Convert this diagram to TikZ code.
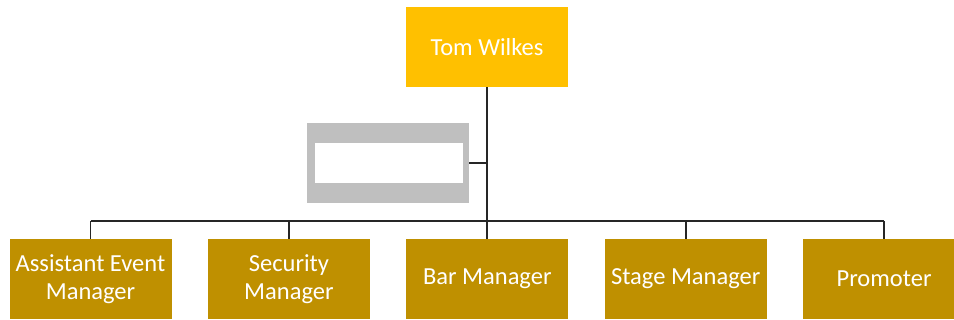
\documentclass[tikz,border=0pt]{standalone}
\usepackage{fontspec}
\setmainfont{Carlito}
\usetikzlibrary{positioning}
\definecolor{boss}{HTML}{FFC000}
\definecolor{staff}{HTML}{BF9000}
\definecolor{blank}{HTML}{BFBFBF}
\tikzset{
    x=1pt,y=1pt,node distance =36pt and 36pt,
    post/.style ={rectangle, inner sep=0pt, minimum width=162pt, minimum height=80pt,
        text=white, align=center, font=\fontsize{24.5}{28}\selectfont},
    head/.style = {post, fill=boss},
    member/.style = {post, fill=staff},
    empty/.style = {post, fill=blank},
    hole/.style = {rectangle, inner sep=0pt, fill=white, minimum width=148pt, minimum height=40pt},
    link/.style = {line width=1.8pt, black!85}
}

\begin{document}
\begin{tikzpicture}
    \useasboundingbox (0,0) rectangle (954,320);
    \node[head] (0) at (487,273) {Tom Wilkes};
    \node[empty] (6) at (388,157) {};
    \node[hole] (6w) at (389,157) {};

	\node[member] (1) at (90.5,41) {Assistant Event\\Manager};
	\node[member] (2) [right = of 1] {Security\\Manager};
	\node[member] (3) [right = of 2] {Bar Manager};
	\node[member] (4) [right = of 3] {Stage Manager};
	\node[member] (5) [right = of 4] {Promoter};

    \coordinate (j) at (487,99);
	\draw[link] (0) -- (j);
	\draw[link] (6) -- (6 -| 0);
	\draw[link] (1 |- j) -- (5 |- j);
	\foreach \k in {1,...,5}
	    \draw[link] (\k |- j) -- (\k);
	
\end{tikzpicture}
\end{document}
